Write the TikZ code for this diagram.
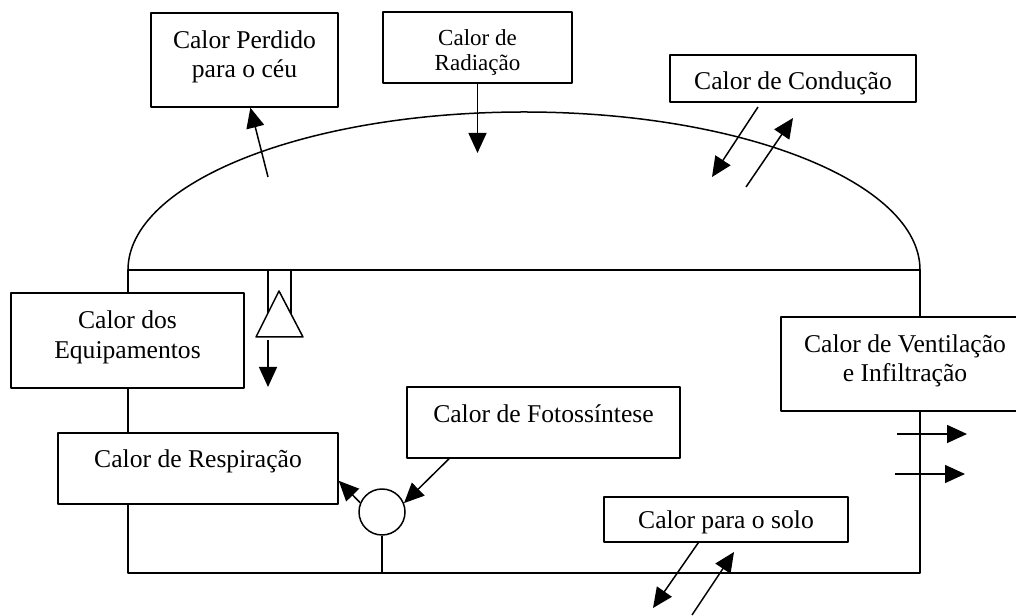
\documentclass[tikz,border=0pt]{standalone}
\usepackage{fontspec}
\setmainfont{Liberation Serif}
\usetikzlibrary{arrows.meta}
\newcommand\fundo{\rule[-11.5pt]{0pt}{11.5pt}}
\begin{document}
\begin{tikzpicture}[x=1pt, y=1pt, line width=1.5pt, line join=round, >={Triangle[length=20pt,width=18pt]},
  font=\fontsize{25.6}{29.4}\selectfont,
  box/.style={draw, fill=white, inner sep=0pt, align=center}]
\useasboundingbox (0,0) rectangle (1016,615);
% estufa
\draw (128,345) arc[start angle=180, end angle=0, x radius=396, y radius=158];
\draw (128,42) rectangle (920,345);
\coordinate (piso) at (128,42);
% equipamento no teto
\draw (268,345) -- (268,300) (291,345) -- (291,300);
\draw[fill=white] (279,324) -- (303,278) -- (256,278) -- cycle;
% caixas
\node[box, minimum width=187, minimum height=94] (perdido) at (244.5,555) {Calor Perdido\\para o céu\fundo};
\node[box, minimum width=189, minimum height=71, font=\fontsize{23}{25}\selectfont] (radiacao) at (477.5,567.5) {\rule{0pt}{26pt}Calor de\\Radiação};
\node[box, minimum width=246, text height=35pt, text depth=12pt] (conducao) at (793,536.5) {Calor de Condução};
\node[box, minimum width=233, minimum height=95] (equip) at (127.5,274.5) {Calor dos\\Equipamentos\fundo};
\node[box, minimum width=280, text height=35pt, text depth=36pt] (respir) at (198,146.5) {Calor de Respiração};
\node[box, minimum width=273, text height=36pt, text depth=35pt] (foto) at (543.5,192.5) {Calor de Fotossíntese};
\node[box, minimum width=244, text height=32pt, text depth=13pt] (solo) at (726,95.5) {Calor para o solo};
\node[box, minimum width=248, minimum height=94] (vent) at (905,251) {Calor de Ventilação\\e Infiltração\fundo};
\node[draw, fill=white, circle, minimum size=46, inner sep=0pt] (planta) at (382,103) {};
% pontos livres
\coordinate (ceu) at (268,438);
\coordinate (rad) at (477.5,462);
\coordinate (cond1a) at (758,508);
\coordinate (cond1b) at (712,438);
\coordinate (cond2a) at (746,428);
\coordinate (cond2b) at (793,497);
\coordinate (eqA) at (268,275);
\coordinate (eqB) at (268,228);
\coordinate (soloA) at (653,7);
\coordinate (solo2a) at (692,0);
\coordinate (solo2b) at (734,63);
\coordinate (vent1a) at (897,181);
\coordinate (vent1b) at (967,181);
\coordinate (vent2a) at (895,141);
\coordinate (vent2b) at (965,141);
% fluxos de calor
\draw[->] (ceu) -- (perdido.-83.3);
\draw[->] (radiacao.south) -- (rad);
\draw[->] (cond1a) -- (cond1b);
\draw[->] (cond2a) -- (cond2b);
\draw[->] (eqA) -- (eqB);
\draw[->] (planta.157) -- (respir.-5.5);
\draw[->] (foto.201.4) -- (planta.22);
\draw (planta.south) -- (planta.south |- piso);
\draw[->] (solo.220) -- (soloA);
\draw[->] (solo2a) -- (solo2b);
\draw[->] (vent1a) -- (vent1b);
\draw[->] (vent2a) -- (vent2b);
\end{tikzpicture}
\end{document}
